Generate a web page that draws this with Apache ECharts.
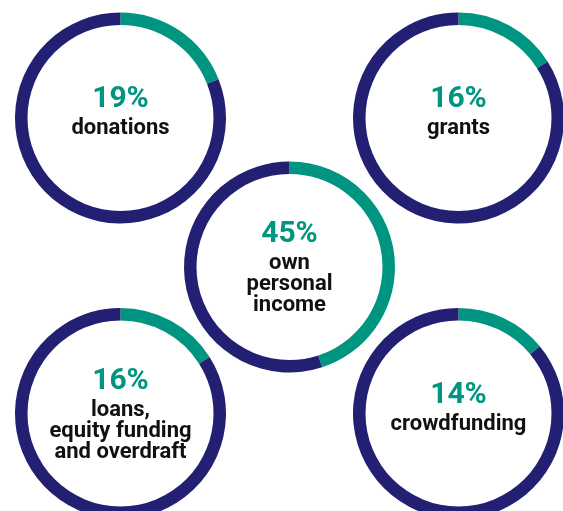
<!DOCTYPE html>
<html>
<head>
<meta charset="utf-8">
<style>
  html, body { margin: 0; padding: 0; background: #ffffff; }
  #chart { width: 563px; height: 511px; }
</style>
<script src="https://cdn.jsdelivr.net/npm/echarts@6/dist/echarts.min.js"></script>
</head>
<body>
<div id="chart"></div>
<script>
// Funding sources and their shares (percent)
const categories = ['donations', 'grants', 'own\npersonal\nincome', 'loans,\nequity funding\nand overdraft', 'crowdfunding'];
const shares = [19, 16, 45, 16, 14];

// Ring placement on the page (pixels)
const ringCenters = [[120.5, 118], [458.5, 118], [289.5, 267], [120.5, 413.5], [458.5, 413.5]];

const TEAL = '#009580';
const NAVY = '#231f72';
const FONT = 'Roboto, "DejaVu Sans", sans-serif';

const series = categories.map((name, i) => {
  const lines = name.split('\n').length;
  const lift = lines > 1 ? 2 : 16;
  return {
    type: 'pie',
    center: ringCenters[i],
    radius: [93, 105.5],
    startAngle: 90,
    clockwise: true,
    silent: true,
    animation: false,
    labelLine: { show: false },
    emphasis: { disabled: true },
    itemStyle: { borderWidth: 0 },
    data: [
      {
        name: name,
        value: shares[i],
        itemStyle: { color: TEAL },
        label: {
          show: true,
          position: 'center',
          padding: [0, 0, lift, 0],
          formatter: (p) => '{p|' + p.value + '%}\n{l|' + p.name.split('\n').join('}\n{l|') + '}',
          rich: {
            p: { fontFamily: FONT, fontSize: 30, fontWeight: 'bold', color: TEAL, lineHeight: 37, align: 'center' },
            l: { fontFamily: FONT, fontSize: 22, fontWeight: 'bold', color: '#111111', lineHeight: 21, align: 'center' }
          }
        }
      },
      {
        name: 'rest',
        value: 100 - shares[i],
        itemStyle: { color: NAVY },
        label: { show: false }
      }
    ]
  };
});

const chart = echarts.init(document.getElementById('chart'), null, { renderer: 'canvas' });
chart.setOption({
  backgroundColor: '#ffffff',
  animation: false,
  series: series
});
</script>
</body>
</html>
